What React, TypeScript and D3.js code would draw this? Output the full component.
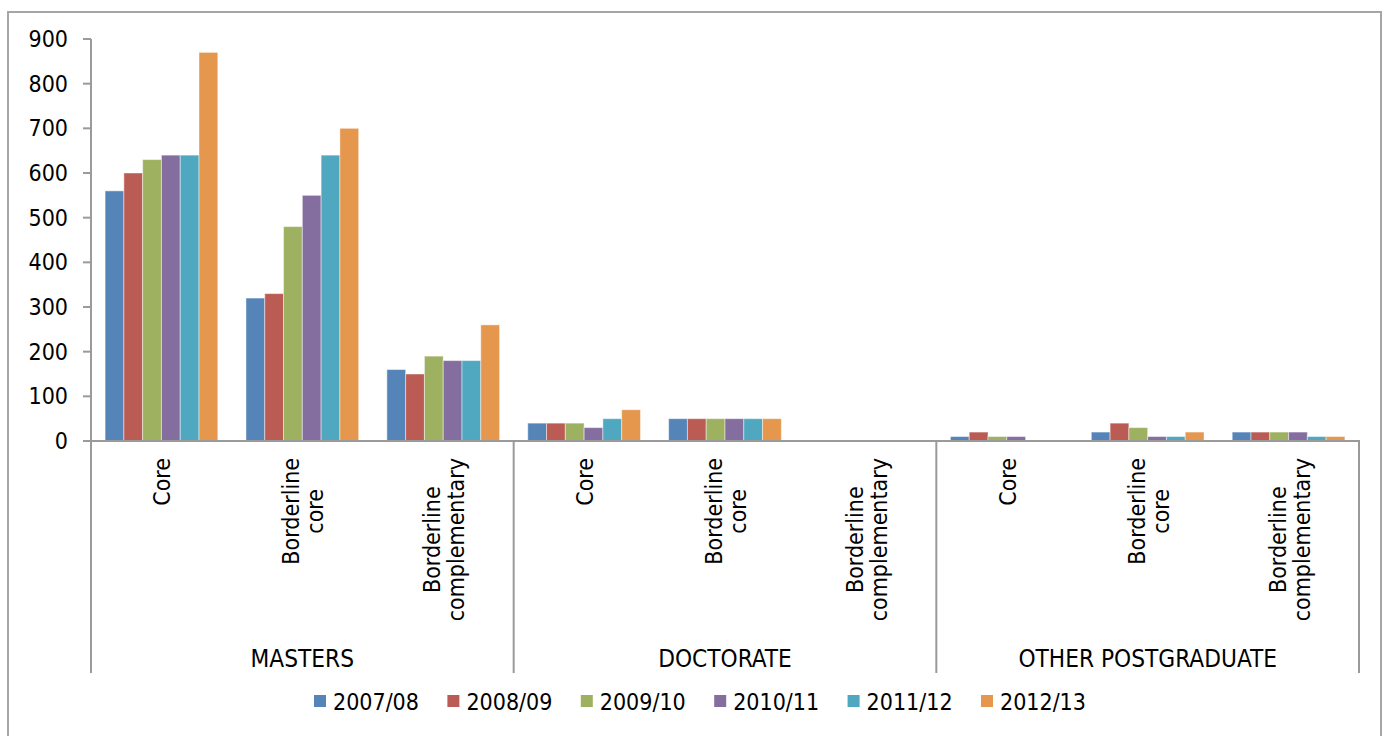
import React from 'react';
import * as d3 from 'd3';

const groups = ['MASTERS', 'DOCTORATE', 'OTHER POSTGRADUATE'];
const subcategories = [['Core'], ['Borderline', 'core'], ['Borderline', 'complementary']];
const seriesNames = ['2007/08', '2008/09', '2009/10', '2010/11', '2011/12', '2012/13'];

// values per category: Masters(Core, Borderline core, Borderline compl.), Doctorate(...), Other PG(...)
const v2007_08 = [560, 320, 160, 40, 50, 0, 10, 20, 20];
const v2008_09 = [600, 330, 150, 40, 50, 0, 20, 40, 20];
const v2009_10 = [630, 480, 190, 40, 50, 0, 10, 30, 20];
const v2010_11 = [640, 550, 180, 30, 50, 0, 10, 10, 20];
const v2011_12 = [640, 640, 180, 50, 50, 0, 0, 10, 10];
const v2012_13 = [870, 700, 260, 70, 50, 0, 0, 20, 10];
const seriesValues = [v2007_08, v2008_09, v2009_10, v2010_11, v2011_12, v2012_13];

const yTicks = [0, 100, 200, 300, 400, 500, 600, 700, 800, 900];

const colors = ['#5585B8', '#BB5C54', '#9DB160', '#846EA0', '#4FA8BF', '#E4974D'];

const FONT_FAMILY = "'DejaVu Sans Condensed', 'DejaVu Sans', sans-serif";
const FONT_SIZE = 23;
const GROUP_FONT_SIZE = 24.2;

let ctx: CanvasRenderingContext2D | null = null;
function measure(text: string): number {
  if (!ctx) {
    const c = document.createElement('canvas');
    ctx = c.getContext('2d');
  }
  if (!ctx) return text.length * FONT_SIZE * 0.55;
  ctx.font = `${FONT_SIZE}px ${FONT_FAMILY}`;
  try { (ctx as any).fontStretch = 'condensed'; } catch (e) {}
  return ctx.measureText(text).width;
}

export default function App() {
  const W = 1388, H = 736;
  const left = 91, right = 1359, top = 39, bottom = 441;
  const catBottom = 673;
  const axisColor = '#9a9a9a';

  const cats = groups.flatMap((g) => subcategories.map((s) => g + '|' + s.join(' ')));
  const catLines = groups.flatMap(() => subcategories);
  const x0 = d3.scaleBand<string>().domain(cats).range([left, right]).paddingInner(0.2).paddingOuter(0.1);
  const x1 = d3.scaleBand<string>().domain(seriesNames).range([0, x0.bandwidth()]);
  const y = d3.scaleLinear().domain([0, 900]).range([bottom, top]);
  const gx = d3.scaleBand<string>().domain(groups).range([left, right]);
  const legendX = d3.scaleBand<string>().domain(seriesNames).range([314, 314 + 133.4 * seriesNames.length]);

  const textStyle: React.CSSProperties = { fontFamily: FONT_FAMILY, fontSize: FONT_SIZE, fontStretch: 'condensed' as any };
  const groupStyle: React.CSSProperties = { ...textStyle, fontSize: GROUP_FONT_SIZE };
  const labelTop = 458;
  const lineH = 24;

  return (
    <svg width={W} height={H} style={{ position: 'absolute', left: 0, top: 0, background: '#fff' }}>
      <rect x={8} y={12} width={1373} height={740} fill="#fff" stroke="#a6a6a6" strokeWidth={2} />

      {/* bars */}
      {seriesValues.map((vals, si) => (
        <g key={si}>
          {vals.map((v, ci) => (
            <rect
              key={ci}
              x={(x0(cats[ci]) as number) + (x1(seriesNames[si]) as number)}
              y={y(v)}
              width={x1.bandwidth()}
              height={bottom - y(v)}
              fill={colors[si]}
              stroke="#ffffff"
              strokeOpacity={0.45}
              strokeWidth={1}
            />
          ))}
        </g>
      ))}

      {/* y axis */}
      <line x1={left} x2={left} y1={top} y2={bottom} stroke={axisColor} strokeWidth={2} />
      {yTicks.map((t) => (
        <g key={t}>
          <line x1={83} x2={left} y1={y(t)} y2={y(t)} stroke={axisColor} strokeWidth={2} />
          <text x={68} y={y(t) + 8} textAnchor="end" style={textStyle} fill="#000">{t}</text>
        </g>
      ))}

      {/* x axis */}
      <line x1={left - 1} x2={right + 1} y1={bottom} y2={bottom} stroke={axisColor} strokeWidth={2} />
      {gx.domain().map((g) => (
        <line key={g} x1={gx(g) as number} x2={gx(g) as number} y1={bottom} y2={catBottom} stroke={axisColor} strokeWidth={2} />
      ))}
      <line x1={right} x2={right} y1={bottom} y2={catBottom} stroke={axisColor} strokeWidth={2} />

      {/* sub-category labels */}
      {cats.map((c, ci) => {
        const lines = catLines[ci];
        const cx = (x0(c) as number) + x0.bandwidth() / 2;
        const maxLen = Math.max(...lines.map(measure));
        return (
          <g key={c} transform={`translate(${cx},${labelTop}) rotate(-90)`}>
            {lines.map((ln, li) => (
              <text
                key={li}
                x={-maxLen / 2}
                y={(li - (lines.length - 1) / 2) * lineH + 9}
                textAnchor="middle"
                style={textStyle}
                fill="#000"
              >
                {ln}
              </text>
            ))}
          </g>
        );
      })}

      {/* group labels */}
      {groups.map((g) => (
        <text key={g} x={(gx(g) as number) + gx.bandwidth() / 2} y={667} textAnchor="middle" style={groupStyle} fill="#000">
          {g}
        </text>
      ))}

      {/* legend */}
      {seriesNames.map((s, i) => (
        <g key={s} transform={`translate(${legendX(s)},0)`}>
          <rect x={0} y={695} width={12} height={12} fill={colors[i]} />
          <text x={19} y={710} style={textStyle} fill="#000">{s}</text>
        </g>
      ))}
    </svg>
  );
}
